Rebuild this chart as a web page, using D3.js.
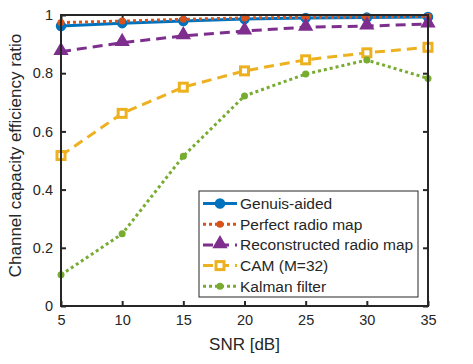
<!DOCTYPE html>
<html>
<head>
<meta charset="utf-8">
<script src="https://cdn.jsdelivr.net/npm/d3@7"></script>
<style>
  body { margin: 0; background: #fff; }
  text { font-family: "Liberation Sans", Arial, sans-serif; fill: #262626; }
</style>
</head>
<body>
<div id="chart"></div>
<script>
var snr = [5, 10, 15, 20, 25, 30, 35];
var genuis = [0.962, 0.972, 0.979, 0.986, 0.990, 0.991, 0.993];
var perfect = [0.974, 0.979, 0.985, 0.990, 0.992, 0.993, 0.995];
var reconstructed = [0.874, 0.905, 0.928, 0.945, 0.958, 0.962, 0.969];
var cam = [0.517, 0.662, 0.752, 0.808, 0.846, 0.870, 0.889];
var kalman = [0.107, 0.248, 0.515, 0.722, 0.797, 0.845, 0.782];
var xTicks = [5, 10, 15, 20, 25, 30, 35];
var yTicks = [0, 0.2, 0.4, 0.6, 0.8, 1];

var series = [
  { name: "Genuis-aided", values: genuis, color: "#0072BD", dash: null, marker: "circle" },
  { name: "Perfect radio map", values: perfect, color: "#D95319", dash: "3,3", marker: "dot" },
  { name: "Reconstructed radio map", values: reconstructed, color: "#7E2F8E", dash: "10,6", marker: "triangle" },
  { name: "CAM (M=32)", values: cam, color: "#EDB120", dash: "10,6", marker: "square" },
  { name: "Kalman filter", values: kalman, color: "#77AC30", dash: "3,3", marker: "smalldot" }
];

var width = 473, height = 364;
var margin = { left: 61, right: 45, top: 15, bottom: 58 };

var svg = d3.select("#chart").append("svg")
    .attr("width", width)
    .attr("height", height);

var x = d3.scaleLinear().domain([5, 35]).range([margin.left, width - margin.right]);
var y = d3.scaleLinear().domain([0, 1]).range([height - margin.bottom, margin.top]);

// axes
svg.append("g")
  .attr("transform", "translate(0," + y(0) + ")")
  .call(d3.axisBottom(x).tickValues(xTicks).tickSize(-5).tickPadding(9).tickFormat(d3.format("d")))
  .call(function(g) { g.select(".domain").remove(); });
svg.append("g")
  .attr("transform", "translate(" + x(5) + ",0)")
  .call(d3.axisLeft(y).tickValues(yTicks).tickSize(-5).tickPadding(8).tickFormat(function(d) { return d === 0 || d === 1 ? d : d.toFixed(1); }))
  .call(function(g) { g.select(".domain").remove(); });
// mirrored ticks
svg.append("g")
  .attr("transform", "translate(0," + y(1) + ")")
  .call(d3.axisTop(x).tickValues(xTicks).tickSize(-5).tickFormat(""))
  .call(function(g) { g.select(".domain").remove(); });
svg.append("g")
  .attr("transform", "translate(" + x(35) + ",0)")
  .call(d3.axisRight(y).tickValues(yTicks).tickSize(-5).tickFormat(""))
  .call(function(g) { g.select(".domain").remove(); });

svg.selectAll(".tick line").attr("stroke", "#262626").attr("stroke-width", 2);
svg.selectAll(".tick text").attr("font-size", "14.5px").attr("fill", "#262626");

// series
var line = d3.line()
  .x(function(d, i) { return x(snr[i]); })
  .y(function(d) { return y(d); });

function drawMarker(g, type, color, cx, cy) {
  if (type === "circle") {
    g.append("circle").attr("cx", cx).attr("cy", cy).attr("r", 4.5).attr("fill", color).attr("stroke", color).attr("stroke-width", 1.5);
  } else if (type === "dot") {
    g.append("circle").attr("cx", cx).attr("cy", cy).attr("r", 3.5).attr("fill", color);
  } else if (type === "smalldot") {
    g.append("circle").attr("cx", cx).attr("cy", cy).attr("r", 3.5).attr("fill", color);
  } else if (type === "triangle") {
    g.append("path").attr("d", d3.symbol(d3.symbolTriangle, 70)()).attr("transform", "translate(" + cx + "," + (cy - 1) + ")").attr("fill", color).attr("stroke", color).attr("stroke-width", 1.5);
  } else if (type === "square") {
    g.append("rect").attr("x", cx - 4).attr("y", cy - 4).attr("width", 8).attr("height", 8).attr("fill", "#fff").attr("stroke", color).attr("stroke-width", 3);
  }
}

var plot = svg.append("g");
series.forEach(function(s) {
  plot.append("path")
    .datum(s.values)
    .attr("d", line)
    .attr("fill", "none")
    .attr("stroke", s.color)
    .attr("stroke-width", 3)
    .attr("stroke-dasharray", s.dash);
  var mg = plot.append("g");
  s.values.forEach(function(v, i) { drawMarker(mg, s.marker, s.color, x(snr[i]), y(v)); });
});

// box
svg.append("rect")
  .attr("x", x(5)).attr("y", y(1))
  .attr("width", x(35) - x(5)).attr("height", y(0) - y(1))
  .attr("fill", "none").attr("stroke", "#262626").attr("stroke-width", 2);

// labels
svg.append("text")
  .attr("x", (x(5) + x(35)) / 2).attr("y", 350)
  .attr("text-anchor", "middle").attr("font-size", "17px")
  .text("SNR [dB]");
svg.append("text")
  .attr("transform", "translate(21," + (y(0.5) - 5) + ") rotate(-90)")
  .attr("text-anchor", "middle").attr("font-size", "17px")
  .text("Channel capacity efficiency ratio");

// legend
var lg = svg.append("g");
lg.append("rect")
  .attr("x", 199).attr("y", 191).attr("width", 219).attr("height", 106)
  .attr("fill", "#fff").attr("stroke", "#262626").attr("stroke-width", 1);
series.forEach(function(s, i) {
  var ly = 203.5 + i * 20.7;
  lg.append("line")
    .attr("x1", 203).attr("x2", 237).attr("y1", ly).attr("y2", ly)
    .attr("stroke", s.color).attr("stroke-width", 3)
    .attr("stroke-dasharray", s.dash);
  drawMarker(lg, s.marker, s.color, 220, ly);
  lg.append("text")
    .attr("x", 240).attr("y", ly + 5.5)
    .attr("font-size", "15.5px")
    .text(s.name);
});
</script>
</body>
</html>
